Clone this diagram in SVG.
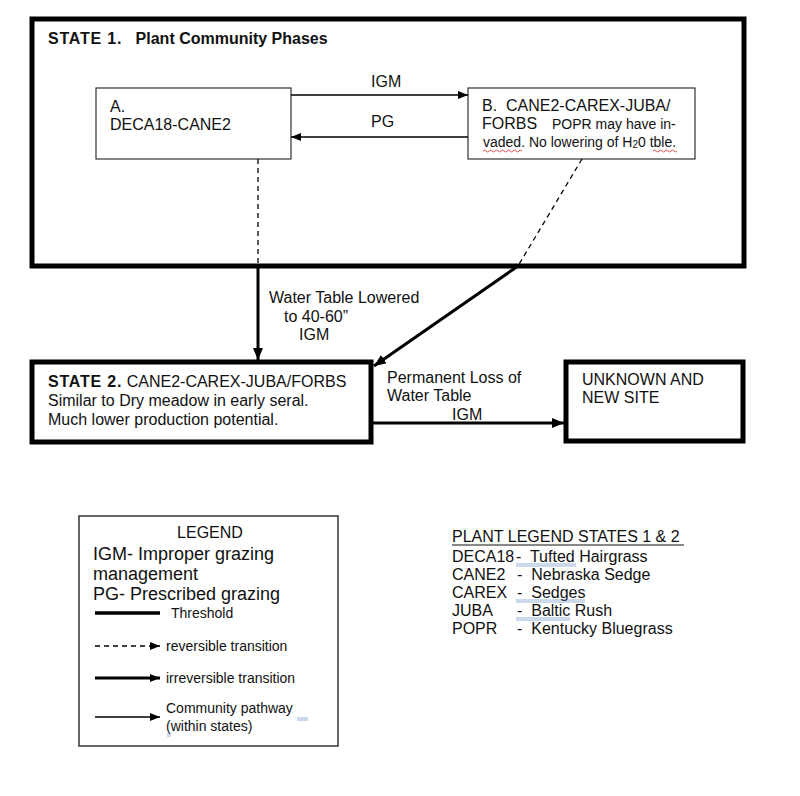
<svg xmlns="http://www.w3.org/2000/svg" width="800" height="796" viewBox="0 0 800 796">
<defs>
<marker id="ah" viewBox="0 0 12 10" refX="12" refY="5" markerWidth="12" markerHeight="10" markerUnits="userSpaceOnUse" orient="auto"><path d="M0,0 L12,5 L0,10 Z" fill="#000"/></marker>
<marker id="ahs" viewBox="0 0 10 8" refX="10" refY="4" markerWidth="10" markerHeight="8" markerUnits="userSpaceOnUse" orient="auto"><path d="M0,0 L10,4 L0,8 Z" fill="#000"/></marker>
</defs>
<style>
text{font-family:"Liberation Sans",Arial,sans-serif;fill:#111;white-space:pre;}
.t16{font-size:16px;}
.t14{font-size:14px;}
.t18{font-size:18px;}
.b{font-weight:bold;}
.state{fill:#fff;stroke:#000;stroke-width:5;}
.phase{fill:#fff;stroke:#333;stroke-width:1.2;}
.thin{stroke:#000;stroke-width:1.3;fill:none;}
.thick{stroke:#000;stroke-width:3;fill:none;}
.dash{stroke:#000;stroke-width:1.3;fill:none;stroke-dasharray:5 4;}
.spell{stroke:#d22;stroke-width:0.8;fill:none;}
.blue{stroke:#6f8fc8;stroke-width:0.7;fill:none;}
</style>
<rect width="800" height="796" fill="#fff"/>

<g id="state1">
<rect class="state" x="32" y="19" width="712" height="247"/>
<text class="t16 b" x="48" y="44"><tspan letter-spacing="0.8">STATE 1.</tspan>   Plant Community Phases</text>
</g>

<g id="phaseA">
<rect class="phase" x="96" y="88" width="195" height="71"/>
<text class="t16" x="110" y="112">A.</text>
<text class="t16" x="110" y="130">DECA18-CANE2</text>
</g>

<g id="phaseB">
<rect class="phase" x="468" y="88" width="227" height="71"/>
<text class="t16" x="482" y="111">B.  CANE2-CAREX-JUBA/</text>
<text class="t16" x="482" y="129">FORBS</text>
<text class="t14" x="552" y="129">POPR may have in-</text>
<text class="t14" x="483" y="147">vaded. No lowering of H<tspan font-size="10" dy="1">2</tspan><tspan dy="-1">0 tble.</tspan></text>
<path class="spell" d="M483,151 q1.5,-2 3,0 t3,0 t3,0 t3,0 t3,0 t3,0 t3,0 t3,0 t3,0 t3,0 t3,0 t3,0 t3,0"/>
<path class="spell" d="M653,151 q1.5,-2 3,0 t3,0 t3,0 t3,0 t3,0 t3,0 t3,0 t3,0"/>
</g>

<g id="state2">
<rect class="state" x="32" y="362" width="339" height="80"/>
<text class="t16" x="48" y="387"><tspan class="b" letter-spacing="0.8">STATE 2.</tspan> CANE2-CAREX-JUBA/FORBS</text>
<text class="t16" x="48" y="406">Similar to Dry meadow in early seral.</text>
<text class="t16" x="48" y="425">Much lower production potential.</text>
</g>

<g id="unknown">
<rect class="state" x="566" y="362" width="177" height="79"/>
<text class="t16" x="582" y="385">UNKNOWN AND</text>
<text class="t16" x="582" y="403">NEW SITE</text>
</g>

<g id="connectors">
<line class="thin" x1="291" y1="95" x2="468" y2="95" marker-end="url(#ahs)"/>
<text class="t16" x="371" y="87">IGM</text>
<line class="thin" x1="468" y1="137" x2="291" y2="137" marker-end="url(#ahs)"/>
<text class="t16" x="371" y="127">PG</text>
<line class="dash" x1="258" y1="159" x2="258" y2="266"/>
<line class="thick" x1="258" y1="266" x2="258" y2="360" marker-end="url(#ah)"/>
<line class="dash" x1="582" y1="159" x2="518" y2="266"/>
<line class="thick" x1="518" y1="266" x2="374" y2="366" marker-end="url(#ah)"/>
<text class="t16" x="269" y="303">Water Table Lowered</text>
<text class="t16" x="284" y="322">to 40-60”</text>
<text class="t16" x="299" y="340">IGM</text>
<line class="thick" x1="373" y1="423" x2="564" y2="423" marker-end="url(#ah)"/>
<text class="t16" x="387" y="383">Permanent Loss of</text>
<text class="t16" x="387" y="401">Water Table</text>
<text class="t16" x="452" y="420">IGM</text>
</g>

<g id="legend">
<rect x="79" y="516" width="259" height="230" fill="#fff" stroke="#333" stroke-width="1.5"/>
<text class="t16" x="210" y="538" text-anchor="middle">LEGEND</text>
<text class="t18" x="93" y="560">IGM- Improper grazing</text>
<text class="t18" x="93" y="580">management</text>
<text class="t18" x="93" y="600">PG- Prescribed grazing</text>
<line x1="95" y1="613" x2="160" y2="613" stroke="#000" stroke-width="3.5"/>
<text class="t14" x="171" y="618">Threshold</text>
<line class="dash" x1="95" y1="646" x2="160" y2="646" marker-end="url(#ahs)"/>
<text class="t14" x="166" y="651">reversible transition</text>
<line class="thick" x1="95" y1="678" x2="160" y2="678" marker-end="url(#ahs)"/>
<text class="t14" x="166" y="683">irreversible transition</text>
<line class="thin" x1="95" y1="717" x2="160" y2="717" marker-end="url(#ahs)"/>
<text class="t14" x="166" y="713">Community pathway</text>
<text class="t14" x="166" y="731">(within states)</text>
<path class="blue" d="M297,718 h11 M297,720 h11 M167,734 h4 M167,736 h4"/>
</g>

<g id="plantLegend">
<text class="t16" x="452" y="542">PLANT LEGEND STATES 1 &amp; 2</text>
<line x1="452" y1="545" x2="684" y2="545" stroke="#111" stroke-width="1"/>
<text class="t16" x="452" y="562">DECA18</text>
<text class="t16" x="516" y="562">-  Tufted Hairgrass</text>
<text class="t16" x="452" y="580">CANE2</text>
<text class="t16" x="517" y="580">-  Nebraska Sedge</text>
<text class="t16" x="452" y="598">CAREX</text>
<text class="t16" x="517" y="598">-  Sedges</text>
<text class="t16" x="452" y="616">JUBA</text>
<text class="t16" x="517" y="616">-  Baltic Rush</text>
<text class="t16" x="452" y="634">POPR</text>
<text class="t16" x="517" y="634">-  Kentucky Bluegrass</text>
<path class="blue" d="M516,564 h60 M516,566 h60 M516,600 h69 M516,602 h69 M516,618 h54 M516,620 h54"/>
</g>
</svg>
